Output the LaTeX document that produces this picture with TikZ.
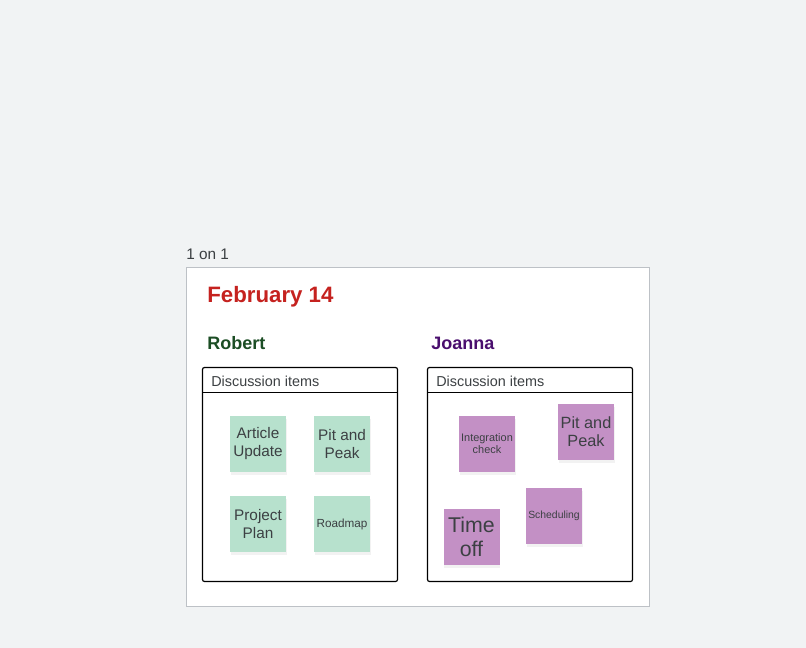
\documentclass[tikz,border=0pt]{standalone}
\usepackage{fontspec}
\setmainfont{Liberation Sans}
\usetikzlibrary{shadows}
\definecolor{canvas}{HTML}{F1F3F4}
\definecolor{framegray}{HTML}{BDC1C6}
\definecolor{inkgray}{HTML}{3C4043}
\definecolor{datered}{HTML}{C5221F}
\definecolor{robgreen}{HTML}{1B4D24}
\definecolor{joapurple}{HTML}{4A0F6E}
\definecolor{notegreen}{HTML}{B7E1CD}
\definecolor{notepurple}{HTML}{C390C5}
\begin{document}
\begin{tikzpicture}[x=0.75pt,y=-0.75pt,
  itembox/.style={draw=black,line width=0.9pt,rounded corners=1.5pt},
  note/.style={minimum width=42pt,minimum height=42pt,inner sep=1pt,align=center,
    text=inkgray,drop shadow={shadow xshift=0.5pt,shadow yshift=-2pt,opacity=0.1}},
  gnote/.style={note,fill=notegreen},
  pnote/.style={note,fill=notepurple},
  person/.style={anchor=west,inner sep=0pt,font=\bfseries\fontsize{13.5}{16}\selectfont}]
  % page and frame
  \fill[canvas] (0,0) rectangle (806,648);
  \node[anchor=base west,inner sep=0pt,text=inkgray,font=\fontsize{11.5}{14}\selectfont] (title) at (186,260) {1 on 1};
  \draw[framegray,fill=white,line width=0.8pt] (186.5,267.5) rectangle (649.5,606.5);
  \node[anchor=base west,inner sep=0pt,text=datered,font=\bfseries\fontsize{16.7}{20}\selectfont] (date) at (207,303) {February 14};
  \node[person,text=robgreen] (robert) at (207,343) {Robert};
  \node[person,text=joapurple] (joanna) at (431,343) {Joanna};
  % discussion boxes
  \draw[itembox] (202.5,367.5) rectangle (397.5,581.5);
  \draw[line width=0.9pt] (202.5,392.5) -- (397.5,392.5);
  \node[anchor=west,inner sep=0pt,text=inkgray,font=\fontsize{10.8}{12}\selectfont] (robhead) at (211,381) {Discussion items};
  \draw[itembox] (427.5,367.5) rectangle (632.5,581.5);
  \draw[line width=0.9pt] (427.5,392.5) -- (632.5,392.5);
  \node[anchor=west,inner sep=0pt,text=inkgray,font=\fontsize{10.8}{12}\selectfont] (joahead) at (436,381) {Discussion items};
  % Robert's notes
  \node[gnote,font=\fontsize{11.5}{13.5}\selectfont] (article) at (258,444) {Article\\Update};
  \node[gnote,font=\fontsize{11.5}{13.5}\selectfont] (robpit) at (342,444) {Pit and\\Peak};
  \node[gnote,font=\fontsize{11.5}{13.5}\selectfont] (project) at (258,524) {Project\\Plan};
  \node[gnote,font=\fontsize{8.8}{10}\selectfont] (roadmap) at (342,524) {Roadmap};
  % Joanna's notes
  \node[pnote,font=\fontsize{8.2}{9}\selectfont] (integration) at (487,444) {Integration\\check};
  \node[pnote,font=\fontsize{12.2}{13.5}\selectfont] (joapit) at (586,432) {Pit and\\Peak};
  \node[pnote,font=\fontsize{7.8}{9}\selectfont] (scheduling) at (554,516) {Scheduling};
  \node[pnote,font=\fontsize{16}{18}\selectfont] (timeoff) at (471.5,537) {Time\\off};
\end{tikzpicture}
\end{document}
